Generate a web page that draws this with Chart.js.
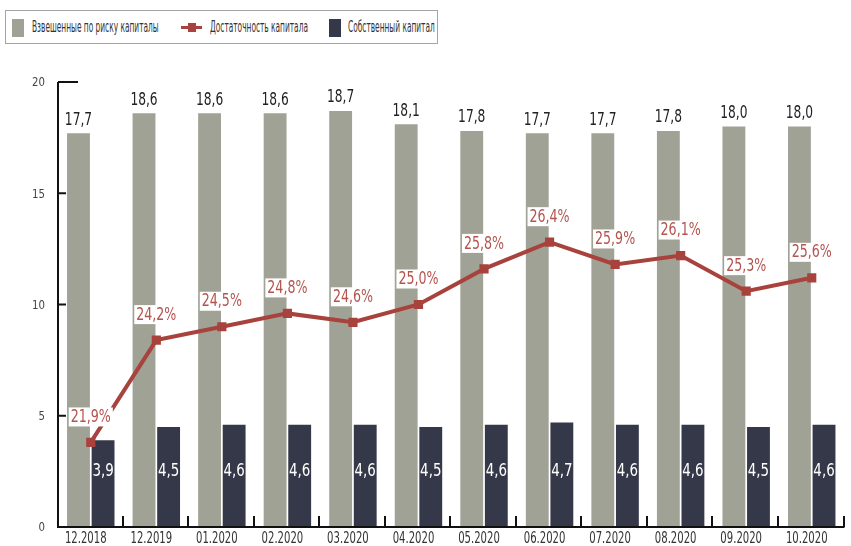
<!DOCTYPE html>
<html>
<head>
<meta charset="utf-8">
<script src="https://cdn.jsdelivr.net/npm/chart.js@4/dist/chart.umd.min.js"></script>
<style>
    body { margin: 0; background: #fff; }
    #wrap { position: relative; width: 851px; height: 546px; }
    #legend {
        position: absolute; left: 5px; top: 10px; width: 431px; height: 32px;
        border: 1px solid #a5a5a5; background: #fff;
        font-family: "DejaVu Sans Condensed", "DejaVu Sans", sans-serif;
        font-size: 15px; color: #333;
    }
    #legend .item {
        position: absolute; top: 0; height: 32px; line-height: 32px; white-space: nowrap;
        transform: scaleX(0.55); transform-origin: 0 50%;
    }
    #legend .sw { position: absolute; }
</style>
</head>
<body>
<div id="wrap">
    <canvas id="chart" width="851" height="546"></canvas>
    <div id="legend"></div>
</div>
<script>
var categories = ['12.2018', '12.2019', '01.2020', '02.2020', '03.2020', '04.2020',
    '05.2020', '06.2020', '07.2020', '08.2020', '09.2020', '10.2020'];
var riskWeighted = [17.7, 18.6, 18.6, 18.6, 18.7, 18.1, 17.8, 17.7, 17.7, 17.8, 18.0, 18.0];
var adequacy = [21.9, 24.2, 24.5, 24.8, 24.6, 25.0, 25.8, 26.4, 25.9, 26.1, 25.3, 25.6];
var ownCapital = [3.9, 4.5, 4.6, 4.6, 4.6, 4.5, 4.6, 4.7, 4.6, 4.6, 4.5, 4.6];
var yTicks = [0, 5, 10, 15, 20];

// no narrow font installed, so text is squeezed horizontally by hand
var FONT = '"DejaVu Sans Condensed", "DejaVu Sans", sans-serif';
var GREY = '#a1a296', DARK = '#353848', RED = '#a8423c', RED_TEXT = '#b4544f';

function fmt(v) { return v.toFixed(1).replace('.', ','); }

function text(ctx, txt, x, y, size, sx, color, align) {
    ctx.save();
    ctx.translate(x, y);
    ctx.scale(sx, 1);
    ctx.font = size + 'px ' + FONT;
    ctx.fillStyle = color;
    ctx.textAlign = align || 'center';
    ctx.textBaseline = 'middle';
    ctx.fillText(txt, 0, 0);
    ctx.restore();
}

// axis lines, inner tick marks, tick labels and value labels, drawn by hand
var decorations = {
    id: 'decorations',
    afterDatasetsDraw: function (chart) {
        var ctx = chart.ctx, a = chart.chartArea,
            x = chart.scales.x, y = chart.scales.y,
            step = (a.right - a.left) / categories.length;

        ctx.save();
        ctx.strokeStyle = '#111';
        ctx.lineWidth = 2;
        ctx.beginPath();
        ctx.moveTo(a.left, a.top);
        ctx.lineTo(a.left, a.bottom);
        ctx.lineTo(a.right, a.bottom);
        yTicks.forEach(function (t) {
            if (t === 0) return;
            var py = y.getPixelForValue(t);
            ctx.moveTo(a.left, py);
            ctx.lineTo(a.left + (t === 20 ? 20 : 8), py);
        });
        for (var i = 1; i <= categories.length; i++) {
            var px = Math.round(a.left + i * step) - 1;
            ctx.moveTo(px, a.bottom);
            ctx.lineTo(px, a.bottom - 11);
        }
        ctx.stroke();
        ctx.restore();

        yTicks.forEach(function (t) {
            text(ctx, String(t), a.left - 13, y.getPixelForValue(t) + 1, 13, 0.87, '#444', 'right');
        });
        categories.forEach(function (c, i) {
            text(ctx, x.getLabelForValue(i), x.getPixelForValue(i) - 5, a.bottom + 12, 16, 0.7, '#333');
        });

        // grey bar values on top
        chart.getDatasetMeta(0).data.forEach(function (bar, i) {
            text(ctx, fmt(riskWeighted[i]), bar.x, bar.y - 13, 17, 0.8, '#222');
        });

        // dark bar values inside
        chart.getDatasetMeta(2).data.forEach(function (bar, i) {
            text(ctx, fmt(ownCapital[i]), bar.x, bar.base - 56, 18, 0.83, '#fff');
        });

        // percent labels on white boxes
        ctx.font = '18px ' + FONT;
        chart.getDatasetMeta(1).data.forEach(function (pt, i) {
            var txt = fmt(adequacy[i]) + '%',
                w = ctx.measureText(txt).width * 0.78 + 4,
                cy = pt.y - 25;
            ctx.fillStyle = '#fff';
            ctx.fillRect(pt.x - w / 2, cy - 10, w, 19);
            text(ctx, txt, pt.x, cy, 18, 0.78, RED_TEXT);
        });
    }
};

var chart = new Chart(document.getElementById('chart'), {
    type: 'bar',
    data: {
        labels: categories,
        datasets: [{
            label: 'Взвешенные по риску капиталы',
            data: riskWeighted,
            backgroundColor: GREY,
            categoryPercentage: 0.75,
            barPercentage: 0.93,
            order: 1
        }, {
            type: 'line',
            label: 'Достаточность капитала',
            data: adequacy,
            yAxisID: 'y1',
            borderColor: RED,
            backgroundColor: RED,
            borderWidth: 4,
            pointStyle: 'rect',
            pointRadius: 6.5,
            pointBorderWidth: 0,
            tension: 0,
            order: 0
        }, {
            label: 'Собственный капитал',
            data: ownCapital,
            backgroundColor: DARK,
            categoryPercentage: 0.75,
            barPercentage: 0.93,
            order: 1
        }]
    },
    options: {
        responsive: false,
        animation: false,
        layout: { padding: { top: 82, right: 1, left: 0, bottom: 0 } },
        plugins: { legend: { display: false }, tooltip: { enabled: false } },
        scales: {
            x: {
                grid: { display: false, drawTicks: false },
                border: { display: false },
                ticks: { display: false },
                afterFit: function (s) { s.height = 19; }
            },
            y: {
                min: 0, max: 20,
                grid: { display: false, drawTicks: false },
                border: { display: false },
                ticks: { display: false },
                afterFit: function (s) { s.width = 58; }
            },
            // hidden scale for the percent line: 20%..30%
            y1: { display: false, min: 20, max: 30 }
        }
    },
    plugins: [decorations]
});

// legend box, built from the datasets
(function buildLegend() {
    var box = document.getElementById('legend'),
        spots = [[6, 26], [175, 204], [323, 342]];
    chart.data.datasets.forEach(function (ds, i) {
        var sw = document.createElement('span'), item = document.createElement('span');
        sw.className = 'sw';
        if (ds.type === 'line') {
            sw.style.cssText = 'left:' + spots[i][0] + 'px;top:15px;width:21px;height:3px;background:' + ds.borderColor;
            var sq = document.createElement('span');
            sq.style.cssText = 'position:absolute;left:7px;top:-3px;width:8px;height:9px;background:' + ds.borderColor;
            sw.appendChild(sq);
        } else {
            sw.style.cssText = 'left:' + spots[i][0] + 'px;top:8px;width:12px;height:18px;background:' + ds.backgroundColor;
        }
        item.className = 'item';
        item.style.left = spots[i][1] + 'px';
        item.textContent = ds.label;
        box.appendChild(sw);
        box.appendChild(item);
    });
})();
</script>
</body>
</html>
